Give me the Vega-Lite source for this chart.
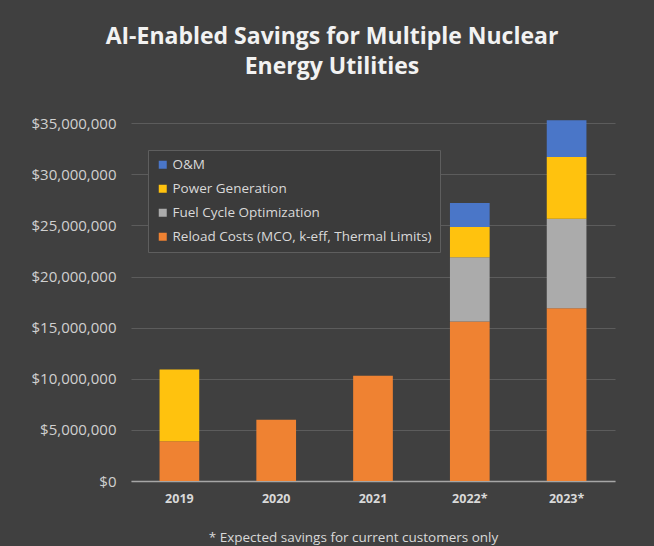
{
  "$schema": "https://vega.github.io/schema/vega-lite/v6.json",
  "autosize": "none",
  "width": 484,
  "height": 368,
  "padding": {"left": 131, "top": 113, "right": 39, "bottom": 65},
  "background": "#404040",
  "title": {
    "text": ["AI-Enabled Savings for Multiple Nuclear", "Energy Utilities"],
    "anchor": "middle",
    "dx": -41,
    "offset": 34,
    "font": "Open Sans",
    "fontSize": 23,
    "fontWeight": "bold",
    "color": "#f2f2f2",
    "lineHeight": 30
  },
  "data": {
    "values": [
      {"year": "2019", "category": "Reload Costs (MCO, k-eff, Thermal Limits)", "savings": 3900000},
      {"year": "2019", "category": "Power Generation", "savings": 7000000},
      {"year": "2020", "category": "Reload Costs (MCO, k-eff, Thermal Limits)", "savings": 6000000},
      {"year": "2021", "category": "Reload Costs (MCO, k-eff, Thermal Limits)", "savings": 10300000},
      {"year": "2022*", "category": "Reload Costs (MCO, k-eff, Thermal Limits)", "savings": 15600000},
      {"year": "2022*", "category": "Fuel Cycle Optimization", "savings": 6300000},
      {"year": "2022*", "category": "Power Generation", "savings": 2950000},
      {"year": "2022*", "category": "O&M", "savings": 2350000},
      {"year": "2023*", "category": "Reload Costs (MCO, k-eff, Thermal Limits)", "savings": 16900000},
      {"year": "2023*", "category": "Fuel Cycle Optimization", "savings": 8750000},
      {"year": "2023*", "category": "Power Generation", "savings": 6050000},
      {"year": "2023*", "category": "O&M", "savings": 3600000}
    ]
  },
  "transform": [
    {"calculate": "indexof(['Reload Costs (MCO, k-eff, Thermal Limits)', 'Fuel Cycle Optimization', 'Power Generation', 'O&M'], datum.category)", "as": "stackRank"}
  ],
  "mark": {"type": "bar"},
  "encoding": {
    "x": {
      "field": "year",
      "type": "nominal",
      "sort": null,
      "scale": {"paddingInner": 0.59, "paddingOuter": 0.295},
      "axis": {
        "title": "* Expected savings for current customers only",
        "titleX": 222,
        "titlePadding": 26,
        "titleFont": "Open Sans",
        "titleFontSize": 13.5,
        "titleFontWeight": "normal",
        "titleColor": "#d9d9d9",
        "labelAngle": 0,
        "labelFont": "Open Sans",
        "labelFontSize": 12.5,
        "labelFontWeight": "bold",
        "labelColor": "#d9d9d9",
        "labelPadding": 11,
        "ticks": false,
        "domainColor": "#a6a6a6",
        "domainWidth": 1.5
      }
    },
    "y": {
      "field": "savings",
      "type": "quantitative",
      "stack": "zero",
      "scale": {"domain": [0, 36000000], "nice": false},
      "axis": {
        "title": null,
        "values": [0, 5000000, 10000000, 15000000, 20000000, 25000000, 30000000, 35000000],
        "format": "$,.0f",
        "labelFont": "Open Sans",
        "labelFontSize": 15,
        "labelColor": "#d0d0d0",
        "labelPadding": 15,
        "ticks": false,
        "domain": false,
        "grid": true,
        "gridColor": "#5c5c5c",
        "gridWidth": 1
      }
    },
    "order": {"field": "stackRank", "type": "quantitative", "sort": "ascending"},
    "color": {
      "field": "category",
      "type": "nominal",
      "scale": {
        "domain": ["O&M", "Power Generation", "Fuel Cycle Optimization", "Reload Costs (MCO, k-eff, Thermal Limits)"],
        "range": ["#4A76C8", "#FFC20E", "#ABABAB", "#EF8232"]
      },
      "legend": {
        "title": null,
        "orient": "none",
        "legendX": 17,
        "legendY": 37,
        "symbolType": "square",
        "symbolSize": 64,
        "symbolStrokeWidth": 0,
        "labelFont": "Open Sans",
        "labelFontSize": 13.5,
        "labelOffset": 3,
        "labelColor": "#d9d9d9",
        "labelLimit": 400,
        "rowPadding": 9,
        "padding": 8,
        "fillColor": "#3b3b3b",
        "strokeColor": "#5e5e5e"
      }
    }
  },
  "config": {
    "view": {"stroke": null},
    "bar": {"stroke": null}
  }
}
